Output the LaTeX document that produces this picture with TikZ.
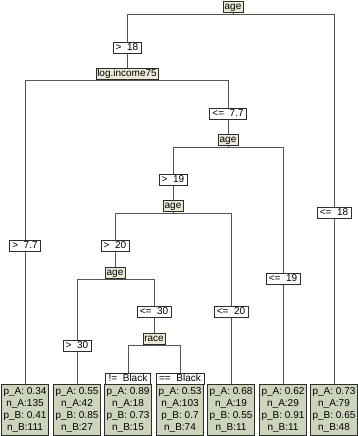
\documentclass[tikz,border=0pt]{standalone}
\usepackage{fontspec}
\setmainfont{Liberation Sans}
\definecolor{TreeLine}{RGB}{85, 85, 85}
\definecolor{BoxDraw}{RGB}{45, 45, 45}
\definecolor{SplitFill}{RGB}{236, 234, 214}
\definecolor{LeafFill}{RGB}{204, 212, 188}
\usepackage{tikz}
\usetikzlibrary{calc}
\tikzset{
  splitbox/.style={rectangle, draw=BoxDraw, fill=#1, inner xsep=1.5pt, inner ysep=0.5pt,
                   minimum height=11pt, text height=7.5pt, text depth=2pt,
                   font=\fontsize{10}{12}\selectfont},
  edgebox/.style={rectangle, draw=BoxDraw, fill=#1, inner xsep=3pt, inner ysep=0.5pt,
                  minimum height=11pt, text height=7.5pt, text depth=2pt,
                  font=\fontsize{10}{12}\selectfont},
  leafbox/.style={rectangle, draw=BoxDraw, fill=#1, inner sep=0pt,
                  minimum width=47pt, minimum height=51pt,
                  font=\fontsize{10}{12}\selectfont, align=center},
  link/.style={draw=#1, line width=0.8pt},
}

\begin{document}
\begin{tikzpicture}[x=1pt, y=-1pt]
      \useasboundingbox (0,0) rectangle (358,436);

      \node[splitbox=SplitFill] (root)  at (233,7)     {age};
      \node[edgebox=white]      (g18)   at (127,48)    {>\ \ 18};
      \node[edgebox=white]      (le18)  at (334,213)   {<=\ \ 18};
      \node[splitbox=SplitFill] (inc)   at (127,73.5)  {log.income75};
      \node[edgebox=white]      (gt77)  at (25,246)    {>\ \ 7.7};
      \node[edgebox=white]      (le77)  at (228,114)   {<=\ \ 7.7};
      \node[splitbox=SplitFill] (age19) at (228,140)   {age};
      \node[edgebox=white]      (g19)   at (173,180)   {>\ \ 19};
      \node[edgebox=white]      (le19)  at (283,279)   {<=\ \ 19};
      \node[splitbox=SplitFill] (age20) at (173,206)   {age};
      \node[edgebox=white]      (g20)   at (115,246)   {>\ \ 20};
      \node[edgebox=white]      (le20)  at (231,312)   {<=\ \ 20};
      \node[splitbox=SplitFill] (age30) at (115,272.5) {age};
      \node[edgebox=white]      (g30)   at (77,346)    {>\ \ 30};
      \node[edgebox=white]      (le30)  at (154,312)   {<=\ \ 30};
      \node[splitbox=SplitFill] (race)  at (154,338.5) {race};
      \node[edgebox=white]      (neblk) at (128,379)   {!=\ \ Black};
      \node[edgebox=white]      (eqblk) at (180,379)   {==\ \ Black};

      \node[leafbox=LeafFill] (leaf1) at (25,409.5)
           {p\_A: 0.34\\n\_A:135\\p\_B: 0.41\\n\_B:111};
      \node[leafbox=LeafFill] (leaf2) at (77,409.5)
           {p\_A: 0.55\\n\_A:42\\p\_B: 0.85\\n\_B:27};
      \node[leafbox=LeafFill] (leaf3) at (128,409.5)
           {p\_A: 0.89\\n\_A:18\\p\_B: 0.73\\n\_B:15};
      \node[leafbox=LeafFill] (leaf4) at (180,409.5)
           {p\_A: 0.53\\n\_A:103\\p\_B: 0.7\\n\_B:74};
      \node[leafbox=LeafFill] (leaf5) at (231,409.5)
           {p\_A: 0.68\\n\_A:19\\p\_B: 0.55\\n\_B:11};
      \node[leafbox=LeafFill] (leaf6) at (283,409.5)
           {p\_A: 0.62\\n\_A:29\\p\_B: 0.91\\n\_B:11};
      \node[leafbox=LeafFill] (leaf7) at (334,409.5)
           {p\_A: 0.73\\n\_A:79\\p\_B: 0.65\\n\_B:48};

      \draw[link=TreeLine] (root.south) -- ([yshift=-2pt]root.south);
      \draw[link=TreeLine] (g18.north) |- ([yshift=-2pt]root.south) -| (le18.north);
      \draw[link=TreeLine] (g18.south) -- (inc.north);
      \draw[link=TreeLine] (le18.south) -- (leaf7.north);

      \draw[link=TreeLine] (inc.south) -- ([yshift=-1pt]inc.south);
      \draw[link=TreeLine] (gt77.north) |- ([yshift=-1pt]inc.south) -| (le77.north);
      \draw[link=TreeLine] (gt77.south) -- (leaf1.north);
      \draw[link=TreeLine] (le77.south) -- (age19.north);

      \draw[link=TreeLine] (age19.south) -- ([yshift=-1.5pt]age19.south);
      \draw[link=TreeLine] (g19.north) |- ([yshift=-1.5pt]age19.south) -| (le19.north);
      \draw[link=TreeLine] (g19.south) -- (age20.north);
      \draw[link=TreeLine] (le19.south) -- (leaf6.north);

      \draw[link=TreeLine] (age20.south) -- ([yshift=-1.5pt]age20.south);
      \draw[link=TreeLine] (g20.north) |- ([yshift=-1.5pt]age20.south) -| (le20.north);
      \draw[link=TreeLine] (g20.south) -- (age30.north);
      \draw[link=TreeLine] (le20.south) -- (leaf5.north);

      \draw[link=TreeLine] (age30.south) -- ([yshift=-1.5pt]age30.south);
      \draw[link=TreeLine] (g30.north) |- ([yshift=-1.5pt]age30.south) -| (le30.north);
      \draw[link=TreeLine] (g30.south) -- (leaf2.north);
      \draw[link=TreeLine] (le30.south) -- (race.north);

      \draw[link=TreeLine] (race.south) -- ([yshift=-1.5pt]race.south);
      \draw[link=TreeLine] (neblk.north) |- ([yshift=-1.5pt]race.south) -| (eqblk.north);
      \draw[link=TreeLine] (neblk.south) -- (leaf3.north);
      \draw[link=TreeLine] (eqblk.south) -- (leaf4.north);
    \end{tikzpicture}
\end{document}
